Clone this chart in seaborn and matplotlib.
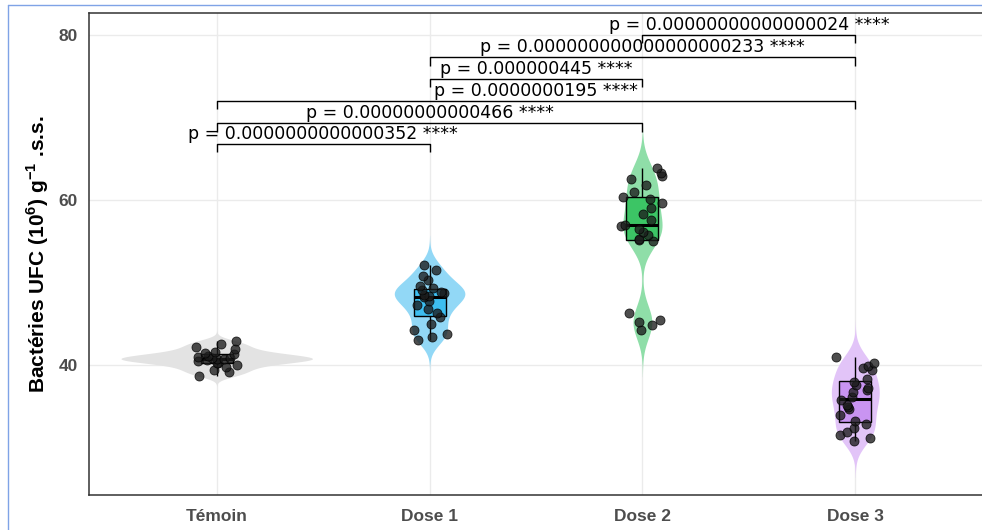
import numpy as np
import pandas as pd
import matplotlib
matplotlib.use("Agg")
import matplotlib.pyplot as plt
from matplotlib.lines import Line2D
import seaborn as sns

# ---- data -------------------------------------------------------------
groups = ["Témoin", "Dose 1", "Dose 2", "Dose 3"]

temoin = [38.7, 39.1, 39.4, 39.7, 40.0, 40.2, 40.3, 40.5, 40.6, 40.7, 40.7,
          40.8, 40.9, 41.0, 41.1, 41.3, 41.4, 41.6, 41.9, 42.2, 42.5, 42.9]
dose1 = [43.0, 43.4, 43.8, 44.3, 45.0, 45.8, 46.3, 46.8, 47.3, 47.8, 48.2,
         48.4, 48.5, 48.7, 48.9, 49.1, 49.3, 49.6, 50.3, 50.8, 51.5, 52.1]
dose2 = [44.2, 44.8, 45.2, 45.5, 46.3,
         55.0, 55.1, 55.3, 55.7, 56.1, 56.5, 56.8, 57.0, 57.6, 58.3, 59.0,
         59.6, 60.1, 60.4, 61.0, 61.8, 62.6, 62.9, 63.3, 63.9]
dose3 = [30.8, 31.2, 31.5, 31.9, 32.4, 32.9, 33.2, 33.9, 34.7, 34.9, 35.2,
         35.7, 36.1, 36.7, 37.0, 37.2, 37.6, 37.9, 38.3, 39.4, 39.6, 39.9,
         40.2, 41.0]

comparisons = [("Témoin", "Dose 1"), ("Témoin", "Dose 2"), ("Témoin", "Dose 3"),
               ("Dose 1", "Dose 2"), ("Dose 1", "Dose 3"), ("Dose 2", "Dose 3")]
p_labels = ["p = 0.0000000000000352 ****",
            "p = 0.00000000000466 ****",
            "p = 0.0000000195 ****",
            "p = 0.000000445 ****",
            "p = 0.000000000000000000233 ****",
            "p = 0.00000000000000024 ****"]
bracket_y = [66.8, 69.3, 72.0, 74.7, 77.3, 80.0]

violin_colors = ["#E3E3E3", "#92D8F6", "#8FDEA8", "#E2C4F8"]
box_colors = ["#C4C4C4", "#3DBEF0", "#3CC565", "#C994F2"]

df = pd.DataFrame({
    "group": (["Témoin"] * len(temoin) + ["Dose 1"] * len(dose1)
              + ["Dose 2"] * len(dose2) + ["Dose 3"] * len(dose3)),
    "value": temoin + dose1 + dose2 + dose3,
})


def nrd0(kde):
    """Silverman's rule of thumb (R's bw.nrd0), as a gaussian_kde factor."""
    x = np.asarray(kde.dataset).ravel()
    sd = x.std(ddof=1)
    q75, q25 = np.percentile(x, [75, 25])
    h = 0.9 * min(sd, (q75 - q25) / 1.34) * len(x) ** -0.2
    return h / sd


# ---- style ------------------------------------------------------------
sns.set_style("white")
plt.rcParams["font.family"] = ["Liberation Sans", "DejaVu Sans"]
plt.rcParams["mathtext.fontset"] = "custom"
plt.rcParams["mathtext.rm"] = "Liberation Sans"
plt.rcParams["mathtext.bf"] = "Liberation Sans:bold"

np.random.seed(7)

fig = plt.figure(figsize=(9.82, 5.30), dpi=100)
ax = fig.add_axes([89 / 982, 1 - 495 / 530, (983 - 89) / 982, (495 - 13) / 530])

sns.violinplot(data=df, x="group", y="value", order=groups, hue="group",
               hue_order=groups, palette=violin_colors, legend=False,
               inner=None, linewidth=0, density_norm="area", common_norm=True,
               width=0.9, cut=3, bw_method=nrd0, saturation=1, ax=ax,
               zorder=2)

sns.boxplot(data=df, x="group", y="value", order=groups, hue="group",
            hue_order=groups, palette=box_colors, legend=False, width=0.15,
            linecolor="black", linewidth=1, showfliers=False, showcaps=False,
            saturation=1, medianprops={"linewidth": 2.2}, ax=ax, zorder=3)

sns.stripplot(data=df, x="group", y="value", order=groups, color="#1c1c1c",
              alpha=0.78, size=6.5, jitter=0.1, edgecolor="black",
              linewidth=0.6, ax=ax, zorder=4)

# ---- significance brackets ---------------------------------------------
pos = {g: i for i, g in enumerate(groups)}
tip = 1.0
for (a, b), lab, yb in zip(comparisons, p_labels, bracket_y):
    x1, x2 = pos[a], pos[b]
    ax.plot([x1, x1, x2, x2], [yb - tip, yb, yb, yb - tip], color="black",
            linewidth=1, zorder=5, solid_capstyle="butt")
    ax.text((x1 + x2) / 2, yb + 0.15, lab, ha="center", va="bottom",
            fontsize=12.5, family=["DejaVu Sans"], color="black", zorder=6)

# ---- axes -------------------------------------------------------------
ax.set_xlim(-0.6, 3.6)
ax.set_ylim(24.24, 82.67)
ax.set_yticks([40, 60, 80])
ax.set_xticks(range(len(groups)))
ax.set_xticklabels(groups)
ax.set_xlabel("")
ax.set_ylabel(r"Bactéries UFC (10$^{\mathbf{6}}$) g$^{\mathbf{-1}}$ .s.s.",
              fontsize=15, fontweight="bold", color="black")
ax.yaxis.set_label_coords(-0.043, 0.5)

ax.grid(True, color="#EBEBEB", linewidth=1)
ax.set_axisbelow(True)
for sp in ax.spines.values():
    sp.set_visible(True)
    sp.set_color("#333333")
    sp.set_linewidth(1.1)

ax.tick_params(axis="both", which="major", length=4, width=1, color="#333333",
               direction="out", labelsize=12.5, labelcolor="#4D4D4D")
ax.tick_params(axis="x", pad=6)
ax.tick_params(axis="y", pad=4)
for t in ax.get_xticklabels() + ax.get_yticklabels():
    t.set_fontweight("bold")

# frame around the figure
frame_col = "#7FA3E6"
fig.add_artist(Line2D([8 / 982, 8 / 982], [0, 1 - 5 / 530],
                      transform=fig.transFigure, color=frame_col, lw=1))
fig.add_artist(Line2D([8 / 982, 1], [1 - 5 / 530, 1 - 5 / 530],
                      transform=fig.transFigure, color=frame_col, lw=1))

fig.savefig("out.png", dpi=100)
